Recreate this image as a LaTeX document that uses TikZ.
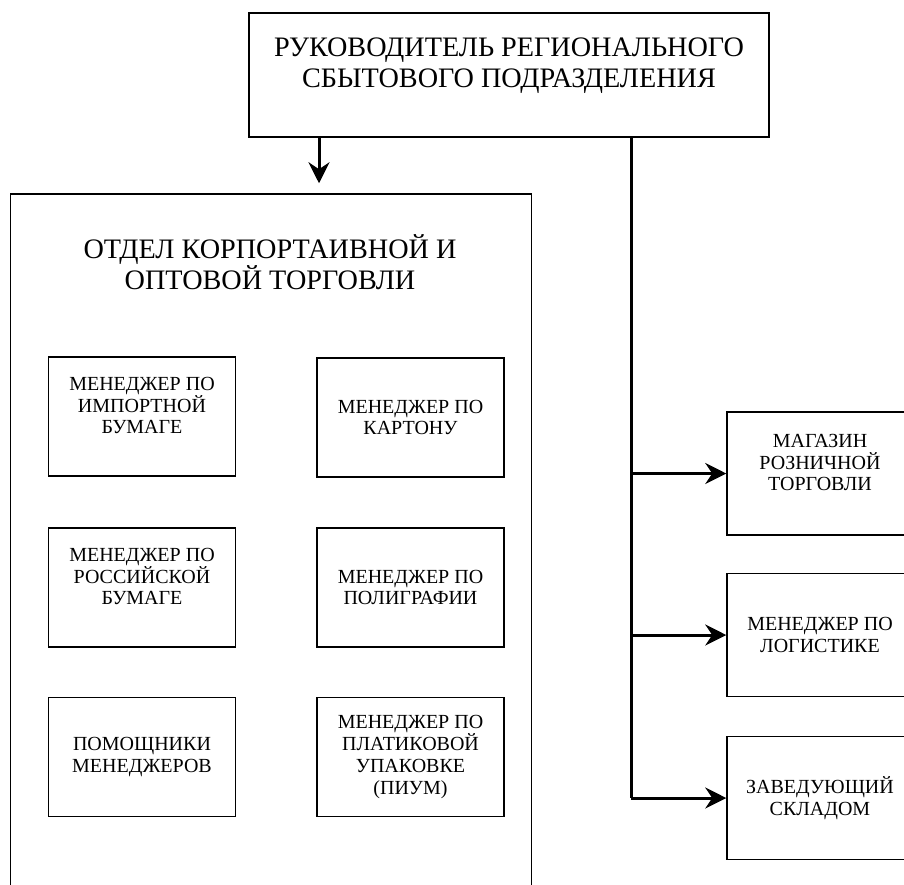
\documentclass[tikz,border=0pt]{standalone}
\usepackage{fontspec}
\setmainfont{Liberation Serif}
\usetikzlibrary{arrows.meta}

\tikzset{
  box/.style={draw, line width=1.5pt, align=center, inner sep=0pt},
  unitbox/.style={box, minimum width=187pt, minimum height=119pt,
    font=\fontsize{20}{21.7}\selectfont},
  sidebox/.style={box, minimum width=186pt, minimum height=123pt,
    font=\fontsize{20}{21.7}\selectfont},
  link/.style={line width=3pt},
  arr/.style={line width=3pt, -{Stealth[length=21pt, width=21pt, inset=7pt]}},
}

\begin{document}
\begin{tikzpicture}[x=1pt, y=-1pt]
\useasboundingbox (0,0) rectangle (904,884);

% head of the regional unit
\node[box, minimum width=520pt, minimum height=124pt,
      font=\fontsize{28.2}{31}\selectfont] (head) at (509,75)
  {РУКОВОДИТЕЛЬ РЕГИОНАЛЬНОГО\\СБЫТОВОГО ПОДРАЗДЕЛЕНИЯ\\[-6pt]~};

% corporate and wholesale department (runs past the lower edge)
\node[box, minimum width=521pt, minimum height=706pt] (dept) at (271,547) {};
\node[align=center, inner sep=0pt, font=\fontsize{28.2}{28.5}\selectfont]
  (depttitle) at (270,262) {ОТДЕЛ КОРПОРТАИВНОЙ И\\ОПТОВОЙ ТОРГОВЛИ};

% managers inside the department
\node[unitbox] (imp)   at (142,416.5)   {МЕНЕДЖЕР ПО\\ИМПОРТНОЙ\\БУМАГЕ\\~};
\node[unitbox] (card)  at (410.5,417.5) {МЕНЕДЖЕР ПО\\КАРТОНУ};
\node[unitbox] (rus)   at (142,587.5)   {МЕНЕДЖЕР ПО\\РОССИЙСКОЙ\\БУМАГЕ\\~};
\node[unitbox] (print) at (410.5,587.5) {МЕНЕДЖЕР ПО\\ПОЛИГРАФИИ};
\node[unitbox] (help)  at (142,757)     {ПОМОЩНИКИ\\МЕНЕДЖЕРОВ};
\node[unitbox] (pack)  at (410.5,757)   {МЕНЕДЖЕР ПО\\ПЛАТИКОВОЙ\\УПАКОВКЕ\\(ПИУМ)};

% units reporting directly to the head (run past the right edge)
\node[sidebox] (shop)  at (820,473.5) {МАГАЗИН\\РОЗНИЧНОЙ\\ТОРГОВЛИ\\~};
\node[sidebox] (logi)  at (820,635)   {МЕНЕДЖЕР ПО\\ЛОГИСТИКЕ};
\node[sidebox] (store) at (820,798)   {ЗАВЕДУЮЩИЙ\\СКЛАДОМ};

% connectors
\coordinate (downx) at (319,0);
\coordinate (trunk) at (631,0);
\draw[arr, shorten >=10pt] (head.south -| downx) -- (dept.north -| downx);
\draw[link] (head.south -| trunk) -- (trunk |- store.west);
\draw[arr] (trunk |- shop.west) -- (shop.west);
\draw[arr] (trunk |- logi.west) -- (logi.west);
\draw[arr] (trunk |- store.west) -- (store.west);
\end{tikzpicture}
\end{document}
